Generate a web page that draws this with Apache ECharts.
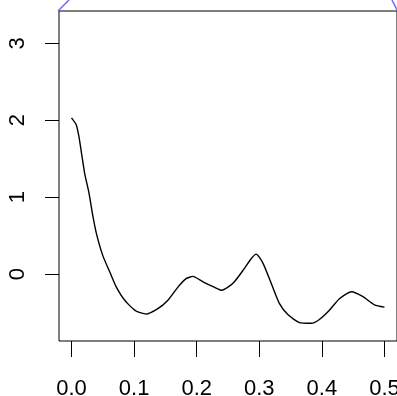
<!DOCTYPE html>
<html>
<head>
<meta charset="utf-8">
<script src="https://cdn.jsdelivr.net/npm/echarts@6/dist/echarts.min.js"></script>
<style>
  html, body { margin: 0; padding: 0; background: #fff; }
  #chart { width: 397px; height: 396px; }
</style>
</head>
<body>
<div id="chart"></div>
<script>
// data
const xVals = [0, 0.0075, 0.012, 0.016, 0.021, 0.028, 0.034, 0.040, 0.050, 0.061, 0.071, 0.085,
  0.103, 0.119, 0.138, 0.154, 0.170, 0.183, 0.194, 0.210, 0.228, 0.240, 0.258, 0.276, 0.287, 0.295,
  0.306, 0.319, 0.332, 0.346, 0.364, 0.383, 0.396, 0.412, 0.428, 0.447, 0.465, 0.484, 0.500];
const yVals = [2.03, 1.94, 1.78, 1.57, 1.31, 1.05, 0.76, 0.52, 0.24, 0.03, -0.16, -0.34,
  -0.48, -0.52, -0.45, -0.34, -0.17, -0.06, -0.03, -0.10, -0.17, -0.21, -0.12, 0.07, 0.20, 0.26,
  0.14, -0.12, -0.38, -0.53, -0.63, -0.64, -0.59, -0.47, -0.32, -0.23, -0.29, -0.40, -0.43];
const xTicks = [0, 0.1, 0.2, 0.3, 0.4, 0.5];
const yTicks = [0, 1, 2, 3];

const chart = echarts.init(document.getElementById('chart'));
const labelStyle = { fontFamily: 'Liberation Sans', fontSize: 22, color: '#000' };

chart.setOption({
    animation: false,
    grid: {
        left: 59, top: 11, right: 0, bottom: 55, show: true, borderColor: '#000', borderWidth: 1,
        containLabel: false, outerBoundsMode: 'none'
    },
    xAxis: {
        type: 'value', min: -0.02, max: 0.52,
        axisLine: { show: false, onZero: false },
        splitLine: { show: false },
        axisTick: { customValues: xTicks, length: 16, lineStyle: { color: '#000' } },
        axisLabel: Object.assign({ customValues: xTicks, margin: 37, formatter: v => v.toFixed(1) }, labelStyle)
    },
    yAxis: {
        type: 'value', min: -0.87, max: 3.42,
        axisLine: { show: false, onZero: false },
        splitLine: { show: false },
        axisTick: { customValues: yTicks, length: 14, lineStyle: { color: '#000' } },
        axisLabel: Object.assign({ customValues: yTicks, margin: 30, rotate: 90 }, labelStyle)
    },
    series: [{
        type: 'line',
        data: xVals.map((x, i) => [x, yVals[i]]),
        smooth: 0.2,
        showSymbol: false,
        lineStyle: { color: '#000', width: 1.4 }
    }],
    graphic: [
        { type: 'line', shape: { x1: 58, y1: 11, x2: 69, y2: 0 }, style: { stroke: '#6b6bff', lineWidth: 1.5 } },
        { type: 'line', shape: { x1: 392, y1: 0, x2: 397, y2: 10 }, style: { stroke: '#6b6bff', lineWidth: 1.5 } }
    ]
});
</script>
</body>
</html>
